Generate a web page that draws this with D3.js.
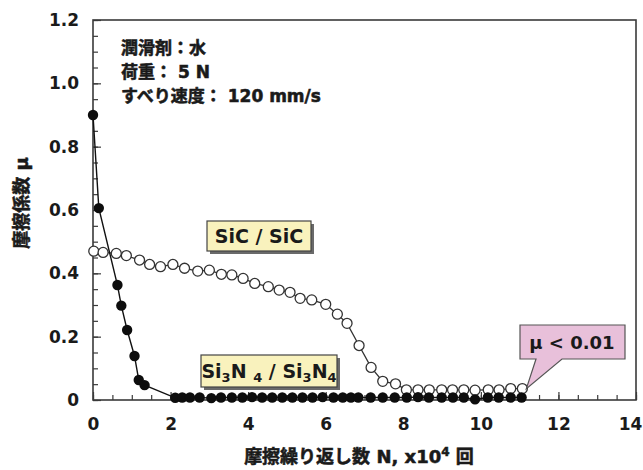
<!DOCTYPE html>
<html>
<head>
<meta charset="utf-8">
<script src="https://cdn.jsdelivr.net/npm/d3@7"></script>
<style>
  body { margin: 0; background: #fff; }
  text { font-family: "DejaVu Sans", "Noto Sans CJK JP", sans-serif; font-weight: bold; fill: #1a1a1a; }
  .cjk { stroke: #1a1a1a; stroke-width: 0.55px; }
</style>
</head>
<body>
<svg class="my_svg"></svg>
<script>
// SiC / SiC (open circles)
const sicX = [0.02, 0.26, 0.6, 0.86, 1.2, 1.46, 1.74, 2.06, 2.36, 2.7, 3.0, 3.31, 3.58, 3.87, 4.17, 4.52, 4.8, 5.08, 5.34, 5.64, 6.0, 6.3, 6.55, 6.86, 7.17, 7.47, 7.8, 8.08, 8.38, 8.67, 8.99, 9.27, 9.56, 9.85, 10.19, 10.47, 10.77, 11.07];
const sicY = [0.47, 0.466, 0.463, 0.456, 0.442, 0.428, 0.421, 0.428, 0.416, 0.407, 0.41, 0.397, 0.395, 0.384, 0.368, 0.358, 0.347, 0.34, 0.321, 0.316, 0.302, 0.271, 0.242, 0.172, 0.103, 0.059, 0.051, 0.032, 0.032, 0.032, 0.032, 0.032, 0.032, 0.031, 0.032, 0.032, 0.036, 0.036];
// Si3N4 / Si3N4 (filled circles)
const sinX = [0, 0.15, 0.63, 0.73, 0.88, 1.07, 1.18, 1.33, 2.12, 2.3, 2.5, 2.75, 3.05, 3.3, 3.58, 3.85, 4.1, 4.36, 4.62, 4.88, 5.14, 5.4, 5.66, 5.92, 6.2, 6.44, 6.65, 6.84, 7.16, 7.47, 7.78, 8.09, 8.38, 8.66, 8.99, 9.28, 9.56, 9.85, 10.18, 10.46, 10.77, 11.05];
const sinY = [0.9, 0.606, 0.363, 0.298, 0.221, 0.139, 0.063, 0.047, 0.007, 0.008, 0.008, 0.008, 0.006, 0.008, 0.008, 0.008, 0.009, 0.008, 0.008, 0.008, 0.008, 0.008, 0.008, 0.009, 0.008, 0.008, 0.008, 0.008, 0.008, 0.008, 0.008, 0.008, 0.009, 0.008, 0.008, 0.008, 0.008, 0.002, 0.008, 0.008, 0.008, 0.008];

const xMajor = [0, 2, 4, 6, 8, 10, 12, 14];
const yMajor = [0, 0.2, 0.4, 0.6, 0.8, 1.0, 1.2];
const conditions = ["潤滑剤：水", "荷重： 5 N", "すべり速度： 120 mm/s"];

const width = 643, height = 470;
const margin = {top: 20, right: 7, bottom: 70, left: 93};

const svg = d3.select(".my_svg").attr("width", width).attr("height", height);

const x = d3.scaleLinear().domain([0, 14]).range([margin.left, width - margin.right]);
const y = d3.scaleLinear().domain([0, 1.2]).range([height - margin.bottom, margin.top]);

const axisColor = "#3a3a3a";

// minor ticks (inward)
const xMinor = d3.range(0, 14.01, 0.5);
const yMinor = d3.range(0, 1.201, 0.05);
svg.append("g").attr("transform", `translate(0,${y(0)})`)
  .call(d3.axisBottom(x).tickValues(xMinor).tickSize(-5).tickFormat(""))
  .call(g => g.select(".domain").remove());
svg.append("g").attr("transform", `translate(${x(0)},0)`)
  .call(d3.axisLeft(y).tickValues(yMinor).tickSize(-5).tickFormat(""))
  .call(g => g.select(".domain").remove());

// major ticks with labels
const xAxis = svg.append("g").attr("transform", `translate(0,${y(0)})`)
  .call(d3.axisBottom(x).tickValues(xMajor).tickSize(-8).tickPadding(18).tickFormat(d3.format("d")));
const yAxis = svg.append("g").attr("transform", `translate(${x(0)},0)`)
  .call(d3.axisLeft(y).tickValues(yMajor).tickSize(-8).tickPadding(14).tickFormat(d => d === 0 ? "0" : d.toFixed(1)));

[xAxis, yAxis].forEach(g => {
  g.selectAll("text").attr("font-size", "17px").attr("font-family", "DejaVu Sans").attr("font-weight", "bold").attr("fill", "#1a1a1a");
  g.select(".domain").remove();
});
// keep the last x label inside the page
xAxis.selectAll(".tick text").filter(d => d === 14).attr("dx", -6);
svg.selectAll(".tick line").attr("stroke", axisColor).attr("stroke-width", 1.2);

// frame
svg.append("rect")
  .attr("x", x(0)).attr("y", y(1.2))
  .attr("width", x(14) - x(0)).attr("height", y(0) - y(1.2))
  .attr("fill", "none").attr("stroke", axisColor).attr("stroke-width", 1.6);

// lines + points
const line = d3.line().x(d => x(d[0])).y(d => y(d[1]));
const sic = sicX.map((v, i) => [v, sicY[i]]);
const sin = sinX.map((v, i) => [v, sinY[i]]);

svg.append("path").datum(sic).attr("d", line).attr("fill", "none").attr("stroke", "#333").attr("stroke-width", 1.3);
svg.selectAll(".sic_pt").data(sic).join("circle").attr("class", "sic_pt")
  .attr("cx", d => x(d[0])).attr("cy", d => y(d[1])).attr("r", 5)
  .attr("fill", "#fff").attr("stroke", "#333").attr("stroke-width", 1.3);

svg.append("path").datum(sin).attr("d", line).attr("fill", "none").attr("stroke", "#111").attr("stroke-width", 1.4);
svg.selectAll(".sin_pt").data(sin).join("circle").attr("class", "sin_pt")
  .attr("cx", d => x(d[0])).attr("cy", d => y(d[1])).attr("r", 5.2)
  .attr("fill", "#0d0d0d");

// conditions text
svg.selectAll(".cond").data(conditions).join("text").attr("class", "cond cjk")
  .attr("x", 121).attr("y", (d, i) => 54 + i * 24)
  .attr("font-size", "17px").text(d => d);

// yellow label boxes with shadow
function labelBox(bx, by, bw, bh) {
  svg.append("rect").attr("x", bx + 3).attr("y", by + 3).attr("width", bw).attr("height", bh).attr("fill", "#6a6a6a");
  svg.append("rect").attr("x", bx).attr("y", by).attr("width", bw).attr("height", bh)
    .attr("fill", "#f9f2bd").attr("stroke", "#444").attr("stroke-width", 1.2);
}
labelBox(207, 221, 104, 30);
svg.append("text").attr("x", 259).attr("y", 243).attr("text-anchor", "middle").attr("font-size", "19px").text("SiC / SiC");

labelBox(201, 355, 136, 32);
const t2 = svg.append("text").attr("x", 269).attr("y", 378).attr("text-anchor", "middle").attr("font-size", "19px");
t2.append("tspan").text("Si");
t2.append("tspan").attr("font-size", "13px").attr("dy", 4).text("3");
t2.append("tspan").attr("dy", -4).text("N ");
t2.append("tspan").attr("font-size", "13px").attr("dy", 4).text("4");
t2.append("tspan").attr("dy", -4).text(" / Si");
t2.append("tspan").attr("font-size", "13px").attr("dy", 4).text("3");
t2.append("tspan").attr("dy", -4).text("N");
t2.append("tspan").attr("font-size", "13px").attr("dy", 4).text("4");

// pink callout pointing to the last SiC point
const tip = [x(sicX[sicX.length - 1]) + 4, y(sicY[sicY.length - 1])];
const bx0 = 520, by0 = 325, bx1 = 625, by1 = 359;
const callout = d3.path();
callout.moveTo(bx0, by0);
callout.lineTo(bx1, by0);
callout.lineTo(bx1, by1);
callout.lineTo(562, by1);
callout.lineTo(tip[0], tip[1]);
callout.lineTo(536, by1);
callout.lineTo(bx0, by1);
callout.closePath();
svg.append("path").attr("d", callout.toString())
  .attr("fill", "#e8c0da").attr("stroke", "#555").attr("stroke-width", 1.2);
svg.append("text").attr("x", 572).attr("y", 349).attr("text-anchor", "middle").attr("font-size", "18px").text("μ < 0.01");

// axis titles
svg.append("text").attr("class", "cjk")
  .attr("transform", `translate(28,${203}) rotate(-90)`)
  .attr("text-anchor", "middle").attr("font-size", "18px")
  .text("摩擦係数 μ");

const xt = svg.append("text").attr("class", "cjk").attr("x", 359).attr("y", 463).attr("text-anchor", "middle").attr("font-size", "18px");
xt.append("tspan").text("摩擦繰り返し数 N, x10");
xt.append("tspan").attr("font-size", "12px").attr("dy", -7).text("4");
xt.append("tspan").attr("dy", 7).text(" 回");
</script>
</body>
</html>
